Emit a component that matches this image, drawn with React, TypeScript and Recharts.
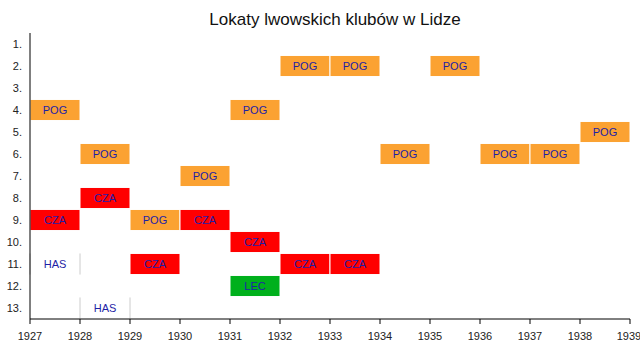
import { ComposedChart, ReferenceArea, Scatter, XAxis, YAxis } from "recharts";

const years = [1927, 1928, 1929, 1930, 1931, 1932, 1933, 1934, 1935, 1936, 1937, 1938, 1939];
const ranks = [1, 2, 3, 4, 5, 6, 7, 8, 9, 10, 11, 12, 13];

const pogonYears = [1927, 1928, 1929, 1930, 1931, 1932, 1933, 1934, 1935, 1936, 1937, 1938];
const pogonRanks = [4, 6, 9, 7, 4, 2, 2, 6, 2, 6, 6, 5];

const czarniYears = [1927, 1928, 1929, 1930, 1931, 1932, 1933];
const czarniRanks = [9, 8, 11, 9, 10, 11, 11];

const hasmoneaYears = [1927, 1928];
const hasmoneaRanks = [11, 13];

const lechiaYears = [1931];
const lechiaRanks = [12];

const clubs = [
  { code: "POG", color: "#fba232", years: pogonYears, ranks: pogonRanks },
  { code: "CZA", color: "#ff0000", years: czarniYears, ranks: czarniRanks },
  { code: "HAS", color: "#ffffff", years: hasmoneaYears, ranks: hasmoneaRanks },
  { code: "LEC", color: "#00b01c", years: lechiaYears, ranks: lechiaRanks },
];

const entries = clubs.flatMap((club) =>
  club.years.map((year, i) => ({
    code: club.code,
    color: club.color,
    year,
    rank: club.ranks[i],
    mid: year + 0.5,
  })),
);

const font = "'Liberation Sans', Arial, sans-serif";
const textColor = "#1e1ea6";

const hollowBox = (props: any) => {
  const { x, y, width, height } = props;
  return (
    <g>
      <rect x={x} y={y} width={width} height={height} fill="#ffffff" />
      <line x1={x} y1={y} x2={x} y2={y + height} stroke="#cccccc" />
      <line x1={x + width} y1={y} x2={x + width} y2={y + height} stroke="#cccccc" />
    </g>
  );
};

export default function App() {
  return (
    <div style={{ position: "absolute", left: 0, top: 0, width: 640, height: 354, background: "#fff" }}>
      <div
        style={{
          position: "absolute",
          left: 30,
          width: 610,
          top: 10,
          textAlign: "center",
          fontFamily: font,
          fontSize: 17,
          color: "#111",
        }}
      >
        Lokaty lwowskich klubów w Lidze
      </div>
      <ComposedChart
        width={640}
        height={354}
        data={entries}
        margin={{ top: 33, right: 10, bottom: 0, left: 0 }}
      >
        <XAxis
          dataKey="mid"
          type="number"
          domain={[1927, 1939]}
          ticks={years}
          allowDataOverflow
          height={35}
          tickSize={5}
          tickMargin={8}
          axisLine={{ stroke: "#000" }}
          tickLine={{ stroke: "#000" }}
          tick={{ fill: "#222", fontSize: 11, fontFamily: font }}
        />
        <YAxis
          dataKey="rank"
          type="number"
          domain={[0.5, 13.5]}
          ticks={ranks}
          reversed
          allowDataOverflow
          width={30}
          tickLine={false}
          axisLine={{ stroke: "#000" }}
          tickFormatter={(v) => `${v}.`}
          tick={{ fill: "#222", fontSize: 11, fontFamily: font }}
        />
        {entries.map((e) => (
          <ReferenceArea
            key={`${e.code}-${e.year}`}
            x1={e.year}
            x2={e.year + 1}
            y1={e.rank - 0.48}
            y2={e.rank + 0.48}
            fill={e.color}
            fillOpacity={1}
            stroke={e.code === "HAS" ? "none" : "#ffffff"}
            strokeWidth={1}
            shape={e.code === "HAS" ? hollowBox : undefined}
            label={{
              value: e.code,
              position: "center",
              fill: textColor,
              fontSize: 11,
              fontFamily: font,
            }}
          />
        ))}
        <Scatter dataKey="rank" fill="none" shape={() => <g />} isAnimationActive={false} />
      </ComposedChart>
    </div>
  );
}
